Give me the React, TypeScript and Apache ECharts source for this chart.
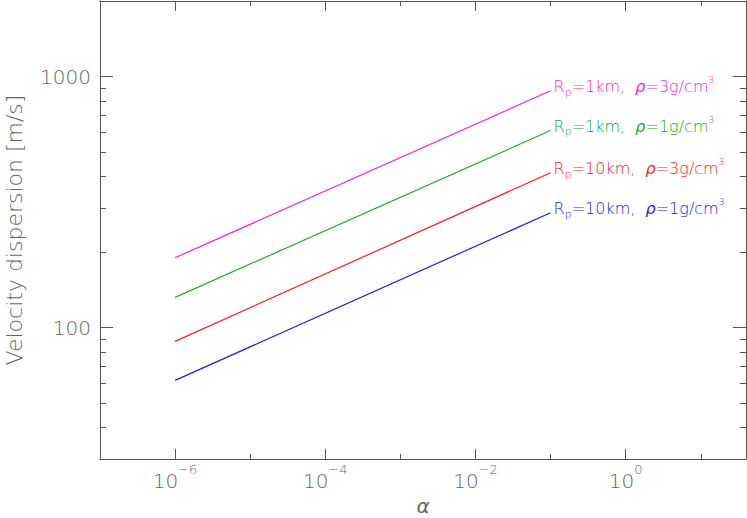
import React, { useEffect, useRef } from "react";
import * as echarts from "echarts";

const X_MIN = 1e-7;
const X_MAX = 40;
const Y_MIN = 30;
const Y_MAX = 2000;
const X_MAJOR = [1e-6, 1e-4, 1e-2, 1];
const X_MINOR = [1e-5, 1e-3, 1e-1, 10];
const Y_MAJOR = [100, 1000];
const Y_MINOR = [30, 40, 50, 60, 70, 80, 90, 200, 300, 400, 500, 600, 700, 800, 900, 2000];

const ALPHA = [1e-6, 1e-1];
const V_R1_RHO3 = [190, 878];
const V_R1_RHO1 = [132, 610];
const V_R10_RHO3 = [88.2, 414];
const V_R10_RHO1 = [61.7, 287];

const SERIES = [
  { rp: "1", rho: "3", values: V_R1_RHO3, color: "#ff1ecb" },
  { rp: "1", rho: "1", values: V_R1_RHO1, color: "#22aa22" },
  { rp: "10", rho: "3", values: V_R10_RHO3, color: "#ff1a1a" },
  { rp: "10", rho: "1", values: V_R10_RHO1, color: "#1a1aff" },
];

const FONT = "DejaVu Sans";
const AXIS_COLOR = "#555";
const TEXT_COLOR = "#666";

export default function App() {
  const ref = useRef<HTMLDivElement>(null);
  useEffect(() => {
    document.body.style.margin = "0";
    const chart = echarts.init(ref.current!, null, { renderer: "svg" });
    const line = { color: AXIS_COLOR, width: 1 };
    const base = {
      type: "log",
      logBase: 10,
      splitLine: { show: false },
    };
    const xBase = { ...base, min: X_MIN, max: X_MAX };
    const yBase = { ...base, min: Y_MIN, max: Y_MAX };
    const expFmt = (v: number) => {
      const e = Math.round(Math.log10(v));
      return "{b|10}{e|" + (e < 0 ? "\u2212" + -e : String(e)) + "}";
    };
    const labelRich = {
      b: { fontSize: 20, fontFamily: FONT, fontWeight: 200, color: TEXT_COLOR, verticalAlign: "bottom", lineHeight: 28 },
      e: { fontSize: 13, fontFamily: FONT, fontWeight: 200, color: TEXT_COLOR, verticalAlign: "top", lineHeight: 28 },
    };
    const option = {
      animation: false,
      grid: { left: 100, top: 1, right: 1, bottom: 59, containLabel: false, outerBoundsMode: "none" },
      xAxis: [
        {
          ...xBase,
          position: "bottom",
          axisLine: { show: true, onZero: false, lineStyle: line },
          axisTick: { show: true, inside: true, length: 10, customValues: X_MAJOR, lineStyle: line },
          axisLabel: { show: true, customValues: X_MAJOR, formatter: expFmt, rich: labelRich, margin: 4 },
          name: "\u03b1",
          nameLocation: "middle",
          nameGap: 39,
          nameTextStyle: { fontSize: 20, lineHeight: 16, fontStyle: "italic", fontFamily: FONT, fontWeight: 200, color: TEXT_COLOR },
        },
        {
          ...xBase,
          position: "bottom",
          axisLine: { show: false },
          axisTick: { show: true, inside: true, length: 5, customValues: X_MINOR, lineStyle: line },
          axisLabel: { show: false },
        },
        {
          ...xBase,
          position: "top",
          axisLine: { show: true, onZero: false, lineStyle: line },
          axisTick: { show: true, inside: true, length: 10, customValues: X_MAJOR, lineStyle: line },
          axisLabel: { show: false },
        },
        {
          ...xBase,
          position: "top",
          axisLine: { show: false },
          axisTick: { show: true, inside: true, length: 5, customValues: X_MINOR, lineStyle: line },
          axisLabel: { show: false },
        },
      ],
      yAxis: [
        {
          ...yBase,
          position: "left",
          axisLine: { show: true, onZero: false, lineStyle: line },
          axisTick: { show: true, inside: true, length: 13, customValues: Y_MAJOR, lineStyle: line },
          axisLabel: {
            show: true,
            customValues: Y_MAJOR,
            formatter: (v: number) => String(Math.round(v)),
            fontSize: 20,
            fontFamily: FONT,
            fontWeight: 200,
            color: TEXT_COLOR,
            margin: 9,
          },
          name: "Velocity dispersion [m/s]",
          nameLocation: "middle",
          nameRotate: 90,
          nameGap: 75,
          nameTextStyle: { fontSize: 22, fontFamily: FONT, fontWeight: 200, color: TEXT_COLOR },
        },
        {
          ...yBase,
          position: "left",
          axisLine: { show: false },
          axisTick: { show: true, inside: true, length: 6, customValues: Y_MINOR, lineStyle: line },
          axisLabel: { show: false },
        },
        {
          ...yBase,
          position: "right",
          axisLine: { show: true, onZero: false, lineStyle: line },
          axisTick: { show: true, inside: true, length: 13, customValues: Y_MAJOR, lineStyle: line },
          axisLabel: { show: false },
        },
        {
          ...yBase,
          position: "right",
          axisLine: { show: false },
          axisTick: { show: true, inside: true, length: 6, customValues: Y_MINOR, lineStyle: line },
          axisLabel: { show: false },
        },
      ],
      series: SERIES.map((s) => ({
        type: "line",
        xAxisIndex: 0,
        yAxisIndex: 0,
        data: ALPHA.map((a, i) => [a, s.values[i]]),
        showSymbol: false,
        symbol: "none",
        lineStyle: { color: s.color, width: 1.2 },
        itemStyle: { color: s.color },
        endLabel: {
          show: true,
          distance: 3,
          offset: [0, -4],
          formatter: () =>
            "{t|R}{s|p}{t|=" + s.rp + "km,  }{g|\u03c1}{t|=" + s.rho + "g/cm}{u|3}",
          rich: {
            t: { fontSize: 16, fontFamily: FONT, fontWeight: 200, color: s.color, lineHeight: 22, verticalAlign: "middle" },
            s: { fontSize: 11, fontFamily: FONT, fontWeight: 200, color: s.color, lineHeight: 22, verticalAlign: "bottom" },
            g: { fontSize: 16, fontFamily: FONT, fontWeight: 200, fontStyle: "italic", color: s.color, lineHeight: 22, verticalAlign: "middle" },
            u: { fontSize: 9, fontFamily: FONT, fontWeight: 200, color: s.color, lineHeight: 22, verticalAlign: "top" },
          },
        },
      })),
    };
    chart.setOption(option as any);
    return () => chart.dispose();
  }, []);
  return <div ref={ref} style={{ width: 747, height: 518 }} />;
}
